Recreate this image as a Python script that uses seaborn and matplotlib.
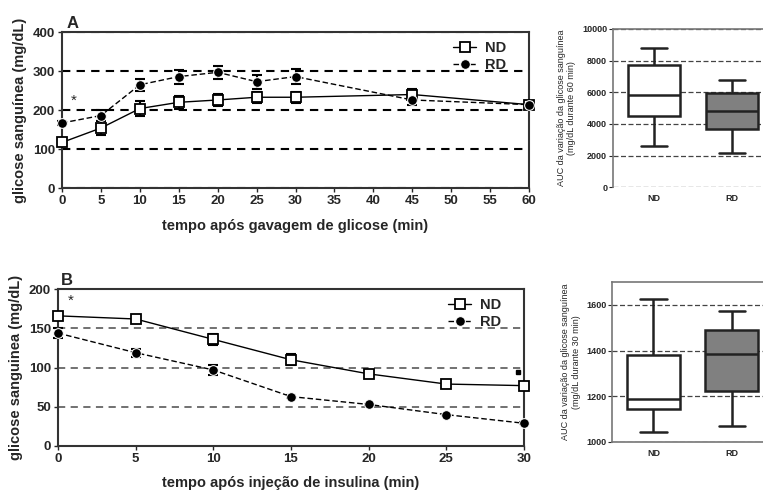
import numpy as np
import pandas as pd
import matplotlib
matplotlib.use("Agg")
import matplotlib.pyplot as plt
import seaborn as sns

sns.set_style("white")
plt.rcParams['font.family'] = ['Liberation Sans', 'DejaVu Sans']

# --- data ---
# A: glucose tolerance test
tempo_A = [0, 5, 10, 15, 20, 25, 30, 45, 60]
nd_A = [117, 154, 204, 220, 226, 233, 233, 240, 214]
nd_A_err = [8, 19, 19, 17, 15, 14, 14, 15, 8]
rd_A = [167, 186, 265, 286, 297, 273, 286, 226, 214]
rd_A_err = [4, 15, 15, 18, 17, 18, 20, 12, 8]

# B: insulin tolerance test
tempo_B = [0, 5, 10, 15, 20, 25, 30]
nd_B = [166, 162, 136, 110, 92, 79, 77]
nd_B_err = [4, 3, 7, 7, 4, 3, 5]
rd_B = [144, 119, 97, 63, 53, 40, 29]
rd_B_err = [6, 5, 6, 2, 1, 1, 1]

# AUC box summaries: min, Q1, median, Q3, max
grupos = ['ND', 'RD']
auc_A = {'ND': [2600, 4500, 5800, 7700, 8800],
         'RD': [2150, 3700, 4800, 5950, 6800]}
auc_B = {'ND': [1045, 1145, 1190, 1380, 1625],
         'RD': [1070, 1225, 1385, 1490, 1575]}

fig = plt.figure(figsize=(7.63, 4.9), dpi=100)
axA = fig.add_axes([0.0813, 0.6163, 0.612, 0.318])
axB = fig.add_axes([0.076, 0.0898, 0.6107, 0.320])
axC = fig.add_axes([0.803, 0.618, 0.197, 0.323])
axD = fig.add_axes([0.802, 0.098, 0.198, 0.3265])

bold = dict(fontweight='bold')


def curva(ax, t, nd, nd_e, rd, rd_e, lw_grid, grid_col):
    df = pd.DataFrame({'t': t * 2, 'g': nd + rd,
                       'grupo': ['ND'] * len(t) + ['RD'] * len(t)})
    sns.lineplot(data=df, x='t', y='g', hue='grupo', style='grupo',
                 palette=['black', 'black'], markers={'ND': 's', 'RD': 'o'},
                 dashes={'ND': '', 'RD': (4, 2)}, markersize=7, lw=1,
                 ax=ax, zorder=3)
    for ln in ax.lines:
        ln.set_clip_on(False)
        if ln.get_marker() == 's':
            ln.set_markerfacecolor('white')
            ln.set_markeredgecolor('black')
            ln.set_markeredgewidth(1.3)
    for serie, err in ((nd, nd_e), (rd, rd_e)):
        eb = ax.errorbar(t, serie, yerr=err, fmt='none', ecolor='black',
                         capsize=3.5, elinewidth=1.5, capthick=1.5, zorder=2)
        for art in eb.lines[1] + eb.lines[2]:
            art.set_clip_on(False)
    ax.yaxis.grid(True, linestyle=(0, (4, 3)), color=grid_col, lw=lw_grid)
    ax.xaxis.grid(False)
    ax.set_axisbelow(True)
    for s in ax.spines.values():
        s.set_color('#333333')
        s.set_linewidth(1.5)
    ax.tick_params(axis='both', direction='out', length=3, width=1,
                   labelsize=9.5, pad=2, left=True, bottom=True)
    h, l = ax.get_legend_handles_labels()
    ax.legend(h, l, loc='upper right', frameon=False, handlelength=1.6,
              prop={'weight': 'bold', 'size': 10.5}, borderaxespad=0.2,
              bbox_to_anchor=(0.97, 1.0), handletextpad=0.6,
              labelspacing=0.2)


curva(axA, tempo_A, nd_A, nd_A_err, rd_A, rd_A_err, 1.5, 'black')
axA.set_xlim(0, 60)
axA.set_ylim(0, 400)
axA.set_xticks(range(0, 61, 5))
axA.set_yticks(range(0, 401, 100))
axA.set_xticklabels([str(v) for v in range(0, 61, 5)], **bold)
axA.set_yticklabels([str(v) for v in range(0, 401, 100)], **bold)
axA.set_xlabel('tempo após gavagem de glicose (min)', fontsize=10.5,
               labelpad=9, **bold)
axA.set_ylabel('glicose sanguínea (mg/dL)', fontsize=10.5, labelpad=4, **bold)
axA.text(1.5, 225, '*', fontsize=11, ha='center', va='center')
axA.text(0.6, 412, 'A', fontsize=12, **bold)

curva(axB, tempo_B, nd_B, nd_B_err, rd_B, rd_B_err, 1.3, '#666666')
axB.set_xlim(0, 30)
axB.set_ylim(0, 200)
axB.set_xticks(range(0, 31, 5))
axB.set_yticks(range(0, 201, 50))
axB.set_xticklabels([str(v) for v in range(0, 31, 5)], **bold)
axB.set_yticklabels([str(v) for v in range(0, 201, 50)], **bold)
axB.set_xlabel('tempo após injeção de insulina (min)', fontsize=10.5,
               labelpad=8, **bold)
axB.set_ylabel('glicose sanguinea (mg/dL)', fontsize=10.5, labelpad=4, **bold)
axB.text(0.8, 185, '*', fontsize=11, ha='center', va='center')
axB.plot([29.6], [94], marker='s', ms=3, color='black')
axB.text(0.2, 205, 'B', fontsize=12, **bold)


def caixas(ax, stats, ylim, yticks, ylabel):
    df = pd.DataFrame({'grupo': [g for g in grupos for _ in stats[g]],
                       'auc': [v for g in grupos for v in stats[g]]})
    sns.boxplot(data=df, x='grupo', y='auc', hue='grupo',
                palette={'ND': 'white', 'RD': '#808080'}, whis=(0, 100),
                width=0.67, linewidth=1.8, linecolor='#222222',
                legend=False, ax=ax, zorder=3)
    ax.set_xlim(-0.53, 1.4)
    ax.set_ylim(*ylim)
    ax.set_yticks(yticks)
    ax.set_yticklabels([str(v) for v in yticks], fontsize=6.5, **bold)
    ax.set_xticks([0, 1])
    ax.set_xticklabels(grupos, fontsize=6.5, **bold)
    ax.set_xlabel('')
    ax.set_ylabel(ylabel, fontsize=6.5, labelpad=4)
    ax.yaxis.grid(True, linestyle=(0, (4, 2)), color='#444444', lw=0.9)
    ax.set_axisbelow(True)
    for s in ax.spines.values():
        s.set_color('#777777')
        s.set_linewidth(1.2)
    ax.spines['right'].set_visible(False)
    ax.tick_params(axis='y', direction='out', length=3, width=0.8, pad=1,
                   left=True)
    ax.tick_params(axis='x', length=0, pad=5)


caixas(axC, auc_A, (0, 10000), [0, 2000, 4000, 6000, 8000, 10000],
       'AUC da variação da glicose sanguínea\n(mg/dL durante 60 min)')
axC.spines['bottom'].set_visible(False)
caixas(axD, auc_B, (1000, 1700), [1000, 1200, 1400, 1600],
       'AUC da variação da glicose sanguínea\n(mg/dL durante 30 min)')

fig.savefig('out.png', dpi=100)
